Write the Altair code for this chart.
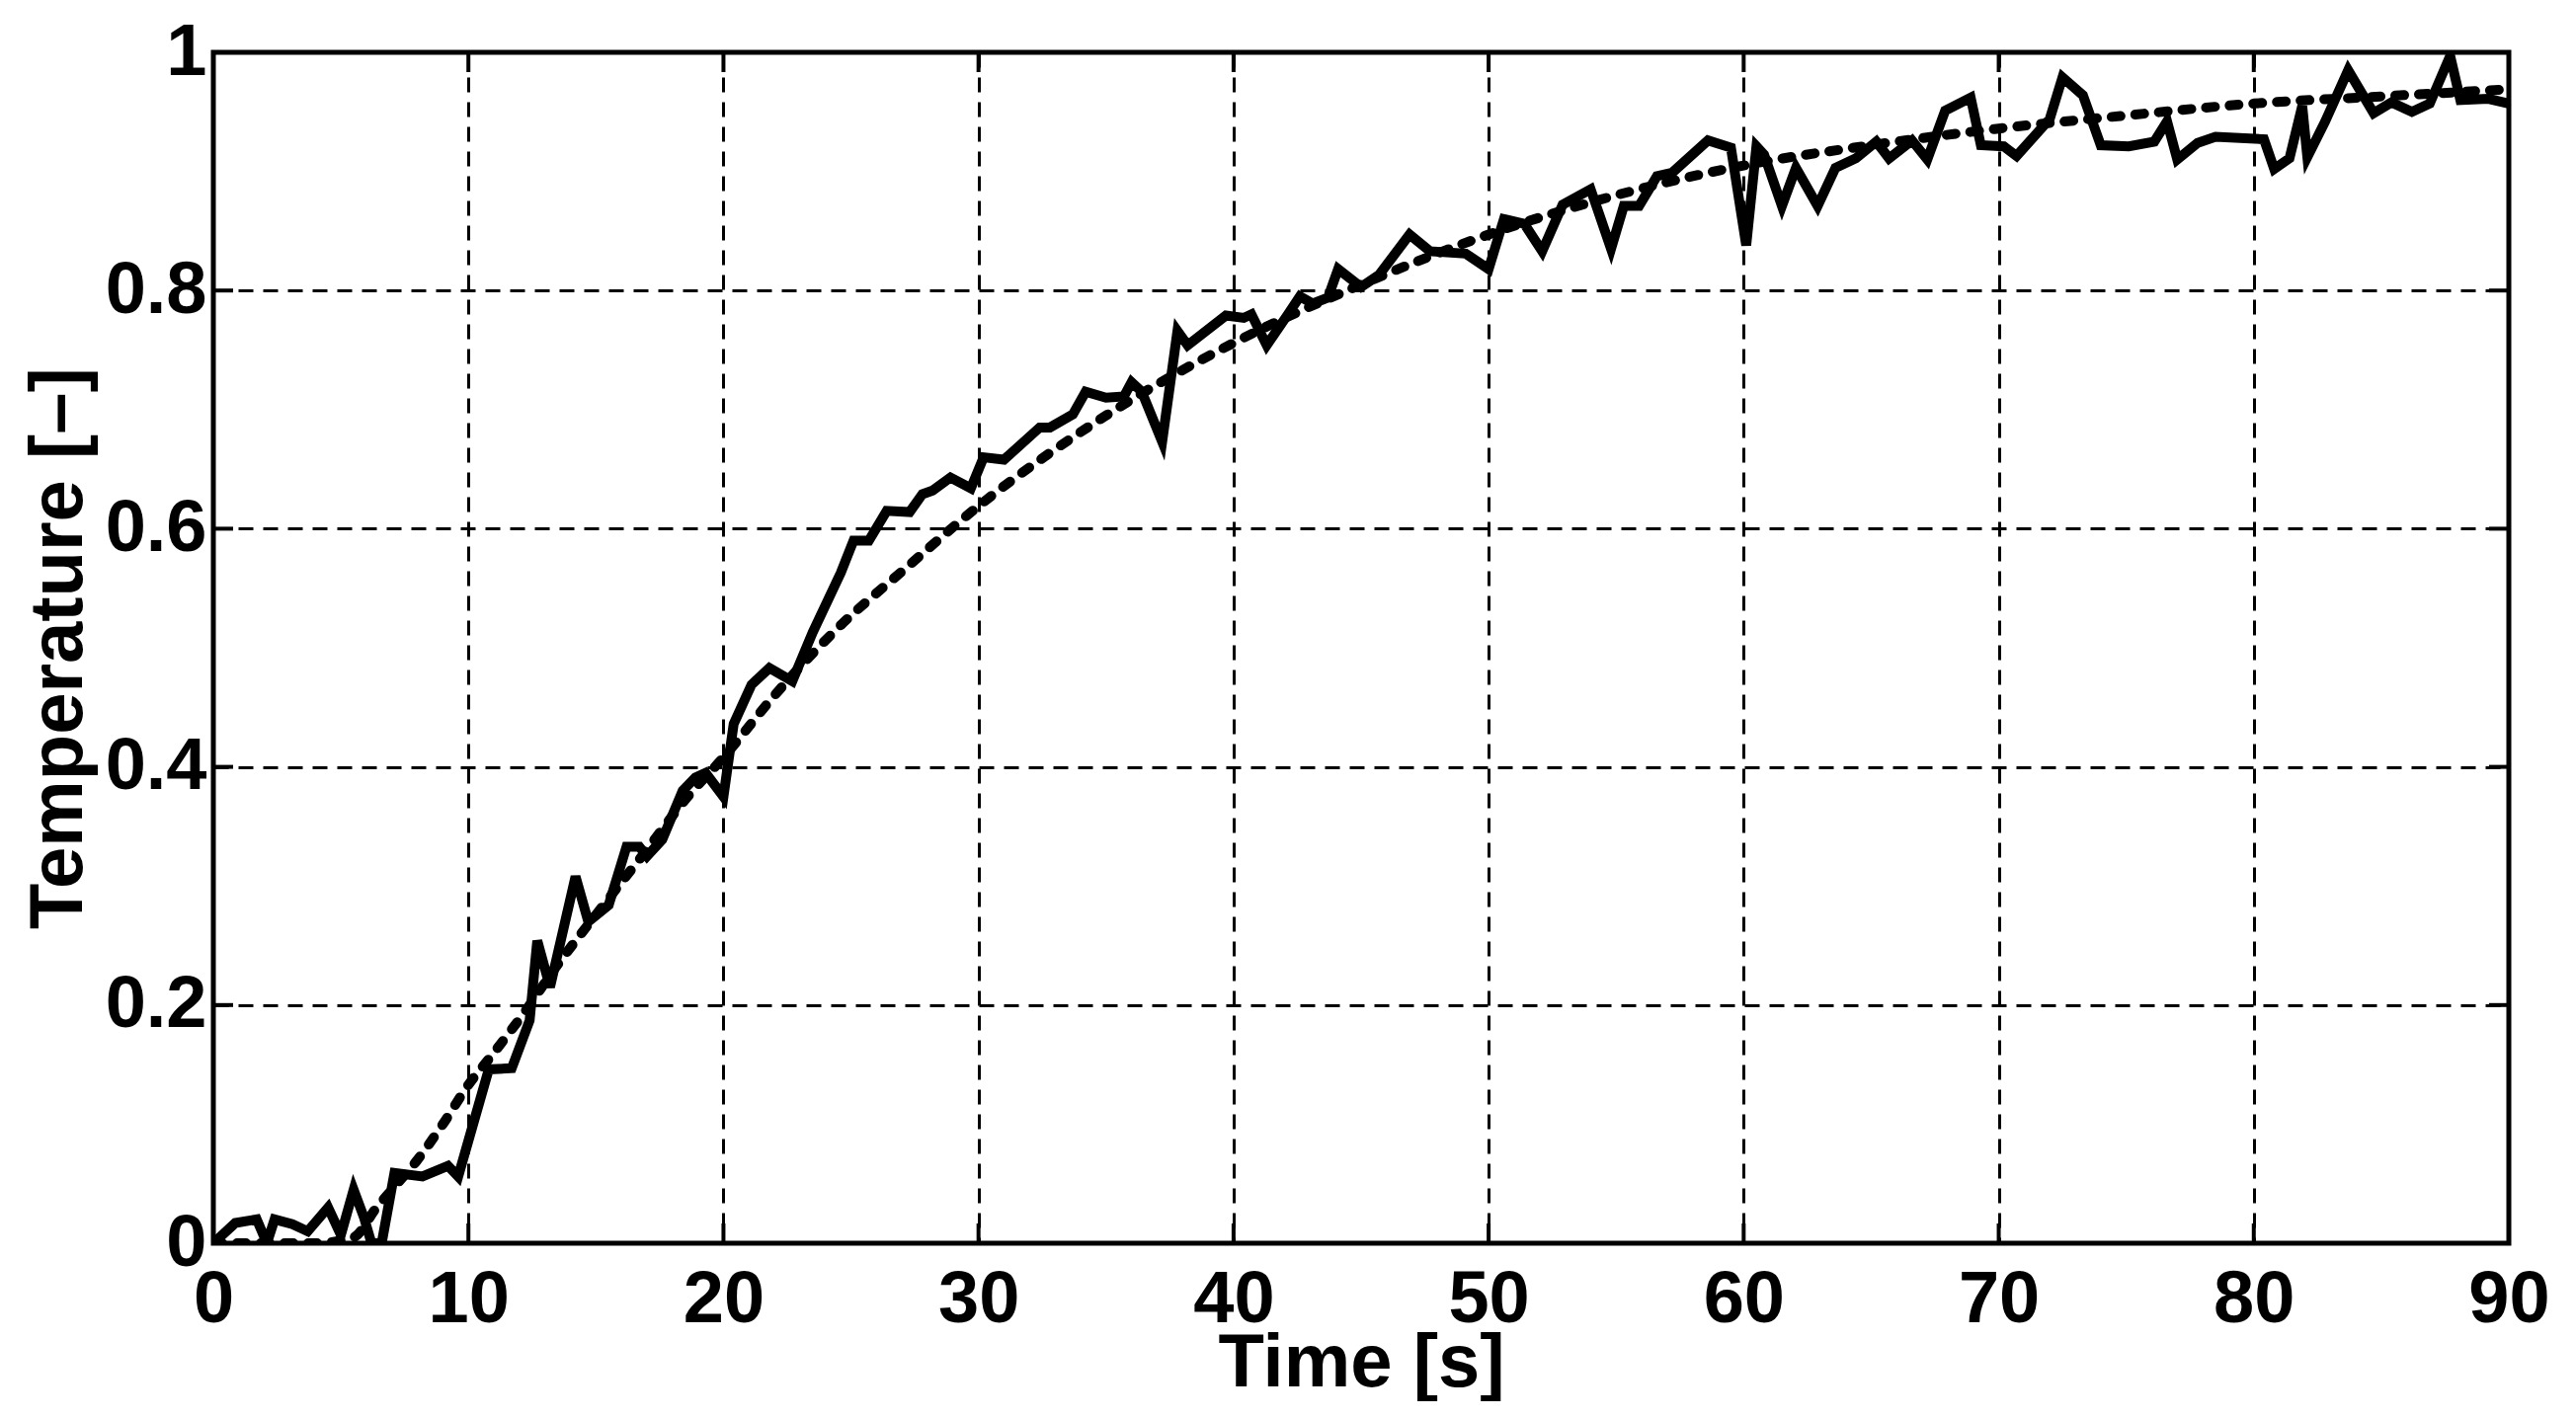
import altair as alt
import pandas as pd

# measured temperature (solid line)
time_meas = [0.0, 0.86, 1.7, 2.1, 2.4, 3.1, 3.7, 4.5, 5.0, 5.5, 5.9, 6.2, 6.6, 7.1, 8.2, 9.2, 9.6,
             10.8, 11.7, 12.4, 12.7, 13.2, 14.2, 14.7, 15.5, 16.2, 16.7, 17.0, 17.6, 18.4, 18.9, 19.3,
             20.0, 20.4, 21.1, 21.8, 22.7, 23.5, 24.6, 25.1, 25.7, 26.4, 27.3, 27.8, 28.2, 28.9, 29.7,
             30.2, 31.0, 32.4, 32.8, 33.7, 34.2, 35.0, 35.7, 36.0, 36.4, 37.2, 37.8, 38.2, 39.7,
             40.4, 40.7, 41.3, 42.1, 42.6, 43.1, 43.7, 44.1, 45.0, 45.7, 46.9, 47.7, 49.1,
             50.0, 50.6, 51.4, 52.1, 52.9, 54.0, 54.8, 55.3, 55.9, 56.6, 57.2, 58.6, 59.5,
             60.1, 60.5, 60.8, 61.5, 62.05, 62.9, 63.6, 64.4, 65.2, 65.7, 66.6, 67.2, 67.9, 68.9, 69.3,
             70.2, 70.7, 72.0, 72.5, 73.3, 74.0, 75.1, 76.1, 76.6, 77.0, 77.8, 78.5,
             80.4, 80.8, 81.4, 81.9, 82.1, 82.8, 83.7, 84.7, 85.4, 86.2, 86.9, 87.7, 88.1, 89.2, 90.0]
temp_meas = [0.0, 0.017, 0.020, 0.0, 0.02, 0.016, 0.01, 0.03, 0.007, 0.045, 0.022, 0.0, 0.0, 0.059, 0.056, 0.065, 0.056,
             0.146, 0.147, 0.187, 0.254, 0.215, 0.308, 0.27, 0.284, 0.333, 0.333, 0.325, 0.339, 0.38, 0.391, 0.395,
             0.375, 0.436, 0.469, 0.483, 0.472, 0.513, 0.563, 0.59, 0.59, 0.615, 0.614, 0.629, 0.632, 0.643, 0.634,
             0.66, 0.658, 0.685, 0.685, 0.696, 0.715, 0.71, 0.711, 0.723, 0.715, 0.673, 0.766, 0.754, 0.779,
             0.777, 0.78, 0.754, 0.779, 0.795, 0.789, 0.794, 0.818, 0.803, 0.813, 0.847, 0.833, 0.831,
             0.818, 0.86, 0.856, 0.833, 0.872, 0.885, 0.835, 0.871, 0.871, 0.896, 0.899, 0.926, 0.92,
             0.838, 0.921, 0.914, 0.871, 0.903, 0.871, 0.903, 0.911, 0.925, 0.911, 0.926, 0.910, 0.951, 0.962, 0.922,
             0.921, 0.913, 0.944, 0.979, 0.964, 0.922, 0.921, 0.925, 0.942, 0.910, 0.924, 0.929,
             0.927, 0.902, 0.911, 0.955, 0.912, 0.942, 0.985, 0.949, 0.958, 0.950, 0.957, 0.997, 0.960, 0.961, 0.957]

# model fit (dashed line)
time_fit = [0, 2, 4, 5.5, 6.4, 7, 8, 9, 10, 11, 12.2, 13.4, 15.3, 16.8, 18.6, 20, 22, 24.6, 27.1,
            30, 35, 40, 45, 50, 55, 60, 65, 70, 75, 80, 85, 90]
temp_fit = [0, 0, 0, 0.005, 0.03, 0.045, 0.07, 0.10, 0.133, 0.16, 0.194, 0.231, 0.284, 0.325, 0.375,
            0.408, 0.46, 0.519, 0.566, 0.619, 0.695, 0.756, 0.805, 0.847, 0.88, 0.905, 0.922, 0.936,
            0.947, 0.957, 0.963, 0.969]

x_ticks = [0, 10, 20, 30, 40, 50, 60, 70, 80, 90]
y_ticks = [0, 0.2, 0.4, 0.6, 0.8, 1.0]

W, H = 2324, 1206
FONT = "Liberation Sans"

meas = pd.DataFrame({"t": time_meas, "T": temp_meas})
fit = pd.DataFrame({"t": time_fit, "T": temp_fit})
xt = pd.DataFrame({"t": x_ticks[1:-1]})
yt = pd.DataFrame({"T": y_ticks[1:-1]})

xscale = alt.Scale(domain=[0, 90], nice=False, zero=False)
yscale = alt.Scale(domain=[0, 1], nice=False, zero=False)

xaxis = alt.Axis(values=x_ticks, title="Time [s]", grid=True, gridColor="black", gridDash=[15, 10],
                 gridWidth=3, gridOpacity=1, ticks=False, domain=False, labelFont=FONT, labelFontSize=74,
                 labelFontWeight="bold", labelColor="black", labelPadding=21, labelOverlap=False,
                 labelFlush=False, titleFont=FONT, titleFontSize=76, titleFontWeight="bold",
                 titleColor="black", titleX=W / 2, titleY=144, titleBaseline="alphabetic",
                 titleAlign="center", titleAnchor="middle")
yaxis = alt.Axis(values=y_ticks, title="Temperature [–]", format="~g", grid=True, gridColor="black",
                 gridDash=[15, 10], gridWidth=3, gridOpacity=1, ticks=False, domain=False,
                 labelFont=FONT, labelFontSize=74, labelFontWeight="bold", labelColor="black",
                 labelPadding=7, labelOverlap=False, labelFlush=False, titleFont=FONT,
                 titleFontSize=76, titleFontWeight="bold", titleColor="black", titleAngle=270,
                 titleX=-134, titleY=H / 2, titleBaseline="alphabetic", titleAlign="center")

X = alt.X("t:Q", scale=xscale, axis=xaxis, title="Time [s]")
Y = alt.Y("T:Q", scale=yscale, axis=yaxis, title="Temperature [–]")

solid = alt.Chart(meas).mark_line(color="black", strokeWidth=10, clip=True).encode(x=X, y=Y)
dashed = alt.Chart(fit).mark_line(color="black", strokeWidth=10, strokeDash=[9, 15], strokeCap="round",
                                  interpolate="monotone", clip=True).encode(x=X, y=Y)

TL = 20
tick_bottom = alt.Chart(xt).mark_rule(color="black", strokeWidth=4).encode(
    x=X, y=alt.value(H - TL), y2=alt.value(H))
tick_top = alt.Chart(xt).mark_rule(color="black", strokeWidth=4).encode(
    x=X, y=alt.value(0), y2=alt.value(TL))
tick_left = alt.Chart(yt).mark_rule(color="black", strokeWidth=4).encode(
    y=Y, x=alt.value(0), x2=alt.value(TL))
tick_right = alt.Chart(yt).mark_rule(color="black", strokeWidth=4).encode(
    y=Y, x=alt.value(W - TL), x2=alt.value(W))

chart = alt.layer(solid, dashed, tick_bottom, tick_top, tick_left, tick_right).properties(
    width=W, height=H,
    autosize=alt.AutoSizeParams(type="none"),
    padding={"left": 208, "top": 45, "right": 60, "bottom": 160},
    background="white",
).configure_view(stroke="black", strokeWidth=5)

chart.save("out.html", embed_options={"renderer": "svg", "actions": False})
